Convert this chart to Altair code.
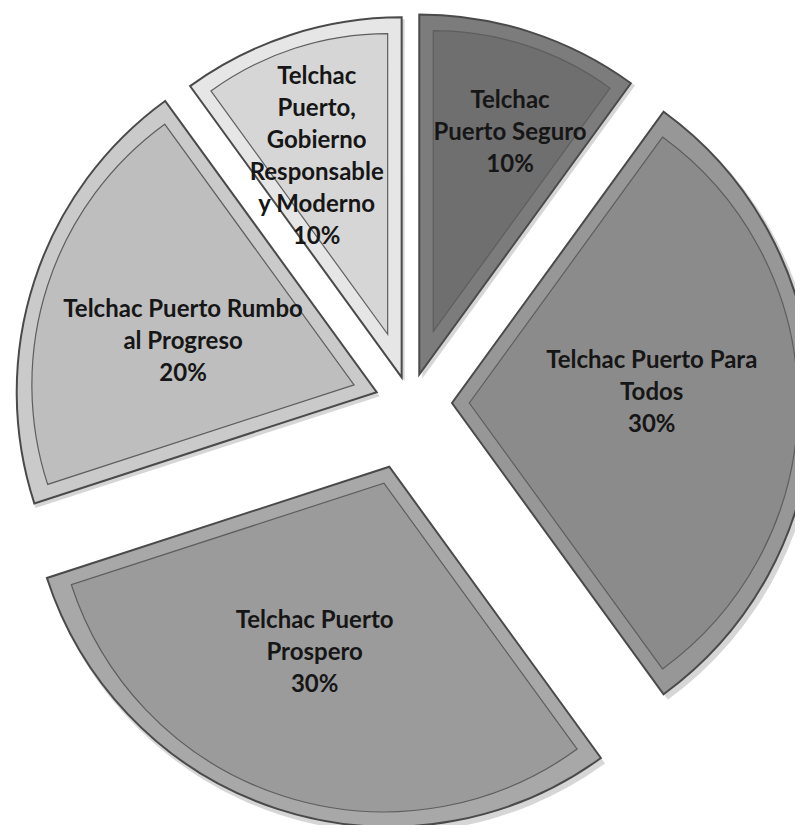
import altair as alt
import pandas as pd

# ---- data ----
categories = [
    "Telchac Puerto Seguro",
    "Telchac Puerto Para Todos",
    "Telchac Puerto Prospero",
    "Telchac Puerto Rumbo al Progreso",
    "Telchac Puerto, Gobierno Responsable y Moderno",
]
values = [10, 30, 30, 20, 10]
percent_labels = ["10%", "30%", "30%", "20%", "10%"]
label_lines = [
    ["Telchac", "Puerto Seguro"],
    ["Telchac Puerto Para", "Todos"],
    ["Telchac Puerto", "Prospero"],
    ["Telchac Puerto Rumbo", "al Progreso"],
    ["Telchac", "Puerto,", "Gobierno", "Responsable", "y Moderno"],
]

# ---- style ----
fill_colors = ["#6f6f6f", "#8b8b8b", "#9b9b9b", "#bebebe", "#d6d6d6"]
rim_colors = ["#7c7c7c", "#979797", "#a8a8a8", "#cacaca", "#e6e6e6"]
explode_px = [30, 42, 67, 35, 27]
label_radius_px = [258, 200, 201, 200, 236]
label_angle_deg = [20.6, 87.0, 201.8, 284.5, 338.9]
R = 360
BEVEL = 14
CX, CY = 402, 395
LINE_H = 32

df = pd.DataFrame({
    "cat": categories,
    "value": values,
    "order": list(range(len(categories))),
    "label": ["\n".join(l + [p]) for l, p in zip(label_lines, percent_labels)],
    "explode": explode_px,
    "lr": label_radius_px,
    "la": label_angle_deg,
})

base = (
    alt.Chart(df)
    .transform_window(cum="sum(value)", sort=[alt.SortField("order")], frame=[None, 0])
    .transform_joinaggregate(total="sum(value)")
    .transform_calculate(t1="2*PI*datum.cum/datum.total")
    .transform_calculate(t0="2*PI*(datum.cum-datum.value)/datum.total")
    .transform_calculate(mid="(datum.t0+datum.t1)/2")
    .transform_calculate(half="(datum.t1-datum.t0)/2")
    .transform_calculate(ax=f"{CX} + datum.explode*sin(datum.mid)")
    .transform_calculate(ay=f"{CY} - datum.explode*cos(datum.mid)")
    .transform_calculate(s=f"{BEVEL}/sin(datum.half)")
    .transform_calculate(ri=f"{R - BEVEL} - datum.s")
    .transform_calculate(ix="datum.ax + datum.s*sin(datum.mid)")
    .transform_calculate(iy="datum.ay - datum.s*cos(datum.mid)")
    .transform_calculate(sx="datum.ax + 3")
    .transform_calculate(sy="datum.ay + 4")
    .transform_calculate(nl="length(split(datum.label, '\\n'))")
    .transform_calculate(lang="datum.la*PI/180")
    .transform_calculate(lx="datum.ax + datum.lr*sin(datum.lang)")
    .transform_calculate(ly=f"datum.ay - datum.lr*cos(datum.lang) - (datum.nl - 1)*{LINE_H}/2")
)

theta = alt.Theta("t0:Q", scale=None, stack=None)
theta2 = alt.Theta2("t1:Q")

shadow = base.mark_arc(radius=R + 2, color="#000000", opacity=0.16).encode(
    theta=theta, theta2=theta2,
    x=alt.X("sx:Q", scale=None, axis=None),
    y=alt.Y("sy:Q", scale=None, axis=None),
)

rim = base.mark_arc(radius=R, stroke="#4a4a4a", strokeWidth=2).encode(
    theta=theta, theta2=theta2,
    x=alt.X("ax:Q", scale=None, axis=None),
    y=alt.Y("ay:Q", scale=None, axis=None),
    color=alt.Color("cat:N", scale=alt.Scale(domain=categories, range=rim_colors), legend=None),
)

inner = base.mark_arc(stroke="#5e5e5e", strokeWidth=1.2).encode(
    theta=theta, theta2=theta2,
    radius=alt.Radius("ri:Q", scale=None),
    x=alt.X("ix:Q", scale=None, axis=None),
    y=alt.Y("iy:Q", scale=None, axis=None),
    color=alt.Color("cat:N", scale=alt.Scale(domain=categories, range=fill_colors), legend=None),
)

labels = base.mark_text(
    font="Lato", fontWeight="bold", fontSize=24, lineBreak="\n", lineHeight=LINE_H,
    color="#161616", align="center", baseline="middle",
).encode(
    x=alt.X("lx:Q", scale=None, axis=None),
    y=alt.Y("ly:Q", scale=None, axis=None),
    text="label:N",
)

chart = (
    alt.layer(shadow, rim, inner, labels)
    .resolve_scale(color="independent")
    .properties(width=787, height=817, padding=0, autosize=alt.AutoSizeParams(type="none"),
                background="white")
    .configure_view(stroke=None)
)

chart.save("out.html", embed_options={"renderer": "svg", "actions": False})
